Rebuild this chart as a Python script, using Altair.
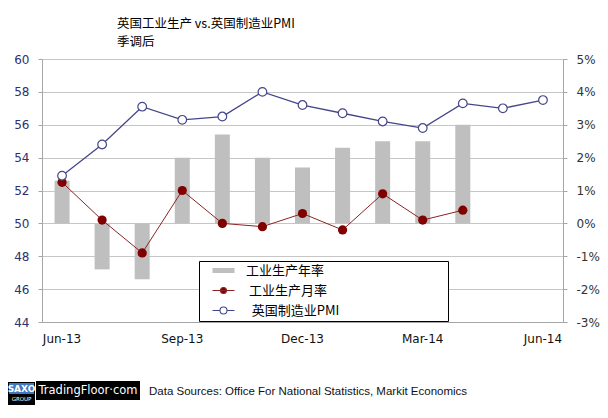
import altair as alt
import pandas as pd

months = ["Jun-13", "Jul-13", "Aug-13", "Sep-13", "Oct-13", "Nov-13", "Dec-13",
          "Jan-14", "Feb-14", "Mar-14", "Apr-14", "May-14", "Jun-14"]
ip_yoy = [1.3, -1.4, -1.7, 2.0, 2.7, 2.0, 1.7, 2.3, 2.5, 2.5, 3.0, None, None]
ip_mom = [1.25, 0.1, -0.9, 1.0, 0.0, -0.1, 0.3, -0.2, 0.9, 0.1, 0.4, None, None]
pmi = [52.9, 54.8, 57.1, 56.3, 56.5, 58.0, 57.2, 56.7, 56.2, 55.8, 57.3, 57.0, 57.5]
x_labels = ["Jun-13", "Sep-13", "Dec-13", "Mar-14", "Jun-14"]
pmi_ticks = [44, 46, 48, 50, 52, 54, 56, 58, 60]
pct_ticks = [-3, -2, -1, 0, 1, 2, 3, 4, 5]
series_names = ["工业生产年率", "工业生产月率", "英国制造业PMI"]
legend_fills = ["#BFBFBF", "#800000", "#FFFFFF"]
legend_strokes = ["transparent", "#8B2323", "#45468A"]
legend_shapes = [
    "M-2.2,-0.5L2.2,-0.5L2.2,0.5L-2.2,0.5Z",
    "M-2.2,0L2.2,0M0.6,0A0.6,0.6 0 1,1 -0.6,0A0.6,0.6 0 1,1 0.6,0Z",
    "M-2.2,0L-0.7,0M0.7,0L2.2,0M0.7,0A0.7,0.7 0 1,1 -0.7,0A0.7,0.7 0 1,1 0.7,0Z",
]
title_lines = ["英国工业生产 vs.英国制造业PMI", "季调后"]
source_text = "Data Sources: Office For National Statistics, Markit Economics"
brand_text = "TradingFloor·com"

df = pd.DataFrame({"month": months, "pmi": pmi, "yoy": ip_yoy, "mom": ip_mom})

CJK = "Noto Sans CJK SC"
LAT = "DejaVu Sans"

x_enc = alt.X("month:N", sort=months, scale=alt.Scale(paddingInner=0, paddingOuter=0),
              axis=alt.Axis(values=x_labels, labelAngle=0, ticks=False, labelPadding=11,
                            labelColor="#111111", title=None, domainColor="#A6A6A6"))

ZW = "\u200b"
pad = "\u00a0" * 36
label_expr = ("datum.value == '英国制造业PMI' ? '" + ZW + "\u00a0\u00a0英国制造业PMI" + pad + ZW + "' : "
              "(datum.value == '工业生产月率' ? '" + ZW + "\u00a0工业生产月率' : datum.label)")


def make_legend():
    return alt.Legend(
        orient="none", legendX=157, legendY=202, title=None,
        strokeColor="#000000", fillColor="#FFFFFF", padding=3, cornerRadius=0,
        labelFont=CJK, labelFontSize=13, labelColor="#000000", labelLimit=0,
        labelOffset=16, symbolOffset=15, rowPadding=6, labelExpr=label_expr,
        symbolSize=100, symbolStrokeWidth=1.1, symbolOpacity=1,
    )


bars = alt.Chart(df).transform_filter("isValid(datum.yoy)").mark_bar(
    size=15, color="#BFBFBF"
).encode(
    x=x_enc,
    y=alt.Y("yoy:Q", scale=alt.Scale(domain=[-3, 5], nice=False, zero=False),
            axis=alt.Axis(orient="right", values=pct_ticks, labelExpr="datum.value + '%'",
                          grid=False, tickSize=4, labelPadding=9, title=None,
                          labelColor="#333333", domainColor="#A6A6A6", tickColor="#A6A6A6")),
)

red = alt.Chart(df).transform_filter("isValid(datum.mom)").mark_line(
    color="#8B2323", strokeWidth=1,
    point=alt.OverlayMarkDef(filled=True, fill="#800000", color="#800000", size=85, opacity=1),
).encode(
    x=x_enc,
    y=alt.Y("mom:Q", scale=alt.Scale(domain=[-3, 5], nice=False, zero=False), axis=None),
)

pmi_line = alt.Chart(df).mark_line(
    color="#45468A", strokeWidth=1.3,
    point=alt.OverlayMarkDef(filled=True, fill="#FFFFFF", stroke="#45468A", strokeWidth=1.2,
                             size=75, opacity=1),
).encode(
    x=x_enc,
    y=alt.Y("pmi:Q", scale=alt.Scale(domain=[44, 60], nice=False, zero=False),
            axis=alt.Axis(orient="left", values=pmi_ticks, grid=True, gridColor="#C6C6C6",
                          tickSize=4, labelPadding=9, title=None, labelColor="#2E3070",
                          domainColor="#A6A6A6", tickColor="#A6A6A6")),
)

legend_layer = alt.Chart(df).transform_filter("false").transform_calculate(
    series="datum.month"
).mark_point(filled=True, opacity=1, size=100).encode(
    x=x_enc,
    shape=alt.Shape("series:N", scale=alt.Scale(domain=series_names, range=legend_shapes),
                    legend=make_legend()),
    fill=alt.Fill("series:N", scale=alt.Scale(domain=series_names, range=legend_fills),
                  legend=make_legend()),
    stroke=alt.Stroke("series:N", scale=alt.Scale(domain=series_names, range=legend_strokes),
                      legend=make_legend()),
)

dummy = alt.Data(values=[{"a": 1}])
saxo_box = alt.Chart(dummy).mark_rect(color="#000000").encode(
    x=alt.value(-34), x2=alt.value(-7), y=alt.value(323), y2=alt.value(346))
saxo_top = alt.Chart(dummy).mark_rect(color="#3F78C0").encode(
    x=alt.value(-33), x2=alt.value(-8), y=alt.value(324), y2=alt.value(335))
saxo_txt = alt.Chart(dummy).mark_text(font=LAT, fontSize=9, fontWeight="bold", color="#FFFFFF",
                                      align="center", baseline="middle").encode(
    x=alt.value(-20.5), y=alt.value(329.5), text=alt.value("SAXO"))
group_txt = alt.Chart(dummy).mark_text(font=LAT, fontSize=5.5, color="#FFFFFF",
                                       align="center", baseline="middle").encode(
    x=alt.value(-20.5), y=alt.value(340), text=alt.value("GROUP"))
brand_box = alt.Chart(dummy).mark_rect(color="#000000").encode(
    x=alt.value(-6), x2=alt.value(98), y=alt.value(322), y2=alt.value(341))
brand_txt = alt.Chart(dummy).mark_text(font=LAT, fontSize=11.5, color="#FFFFFF",
                                       align="center", baseline="middle").encode(
    x=alt.value(46), y=alt.value(331.5), text=alt.value(brand_text))
source = alt.Chart(dummy).mark_text(font="Liberation Sans", fontSize=11.5, color="#111111",
                                    align="left", baseline="middle").encode(
    x=alt.value(107), y=alt.value(333), text=alt.value(source_text))

chart = alt.layer(
    bars, red, pmi_line, legend_layer, saxo_box, saxo_top, saxo_txt, group_txt,
    brand_box, brand_txt, source
).resolve_scale(y="independent").properties(
    width=521, height=263,
    autosize=alt.AutoSizeParams(type="none"),
    padding={"left": 34, "top": 51, "right": 37, "bottom": 85},
    title=alt.TitleParams(text=title_lines, anchor="start", frame="group", dx=75,
                          font=CJK, fontSize=12.5, fontWeight="normal", color="#000000",
                          lineHeight=18, offset=5),
).configure_view(stroke=None).configure_axis(
    labelFont=LAT, labelFontSize=12
)

chart.save("out.html", embed_options={"renderer": "svg", "actions": False})
